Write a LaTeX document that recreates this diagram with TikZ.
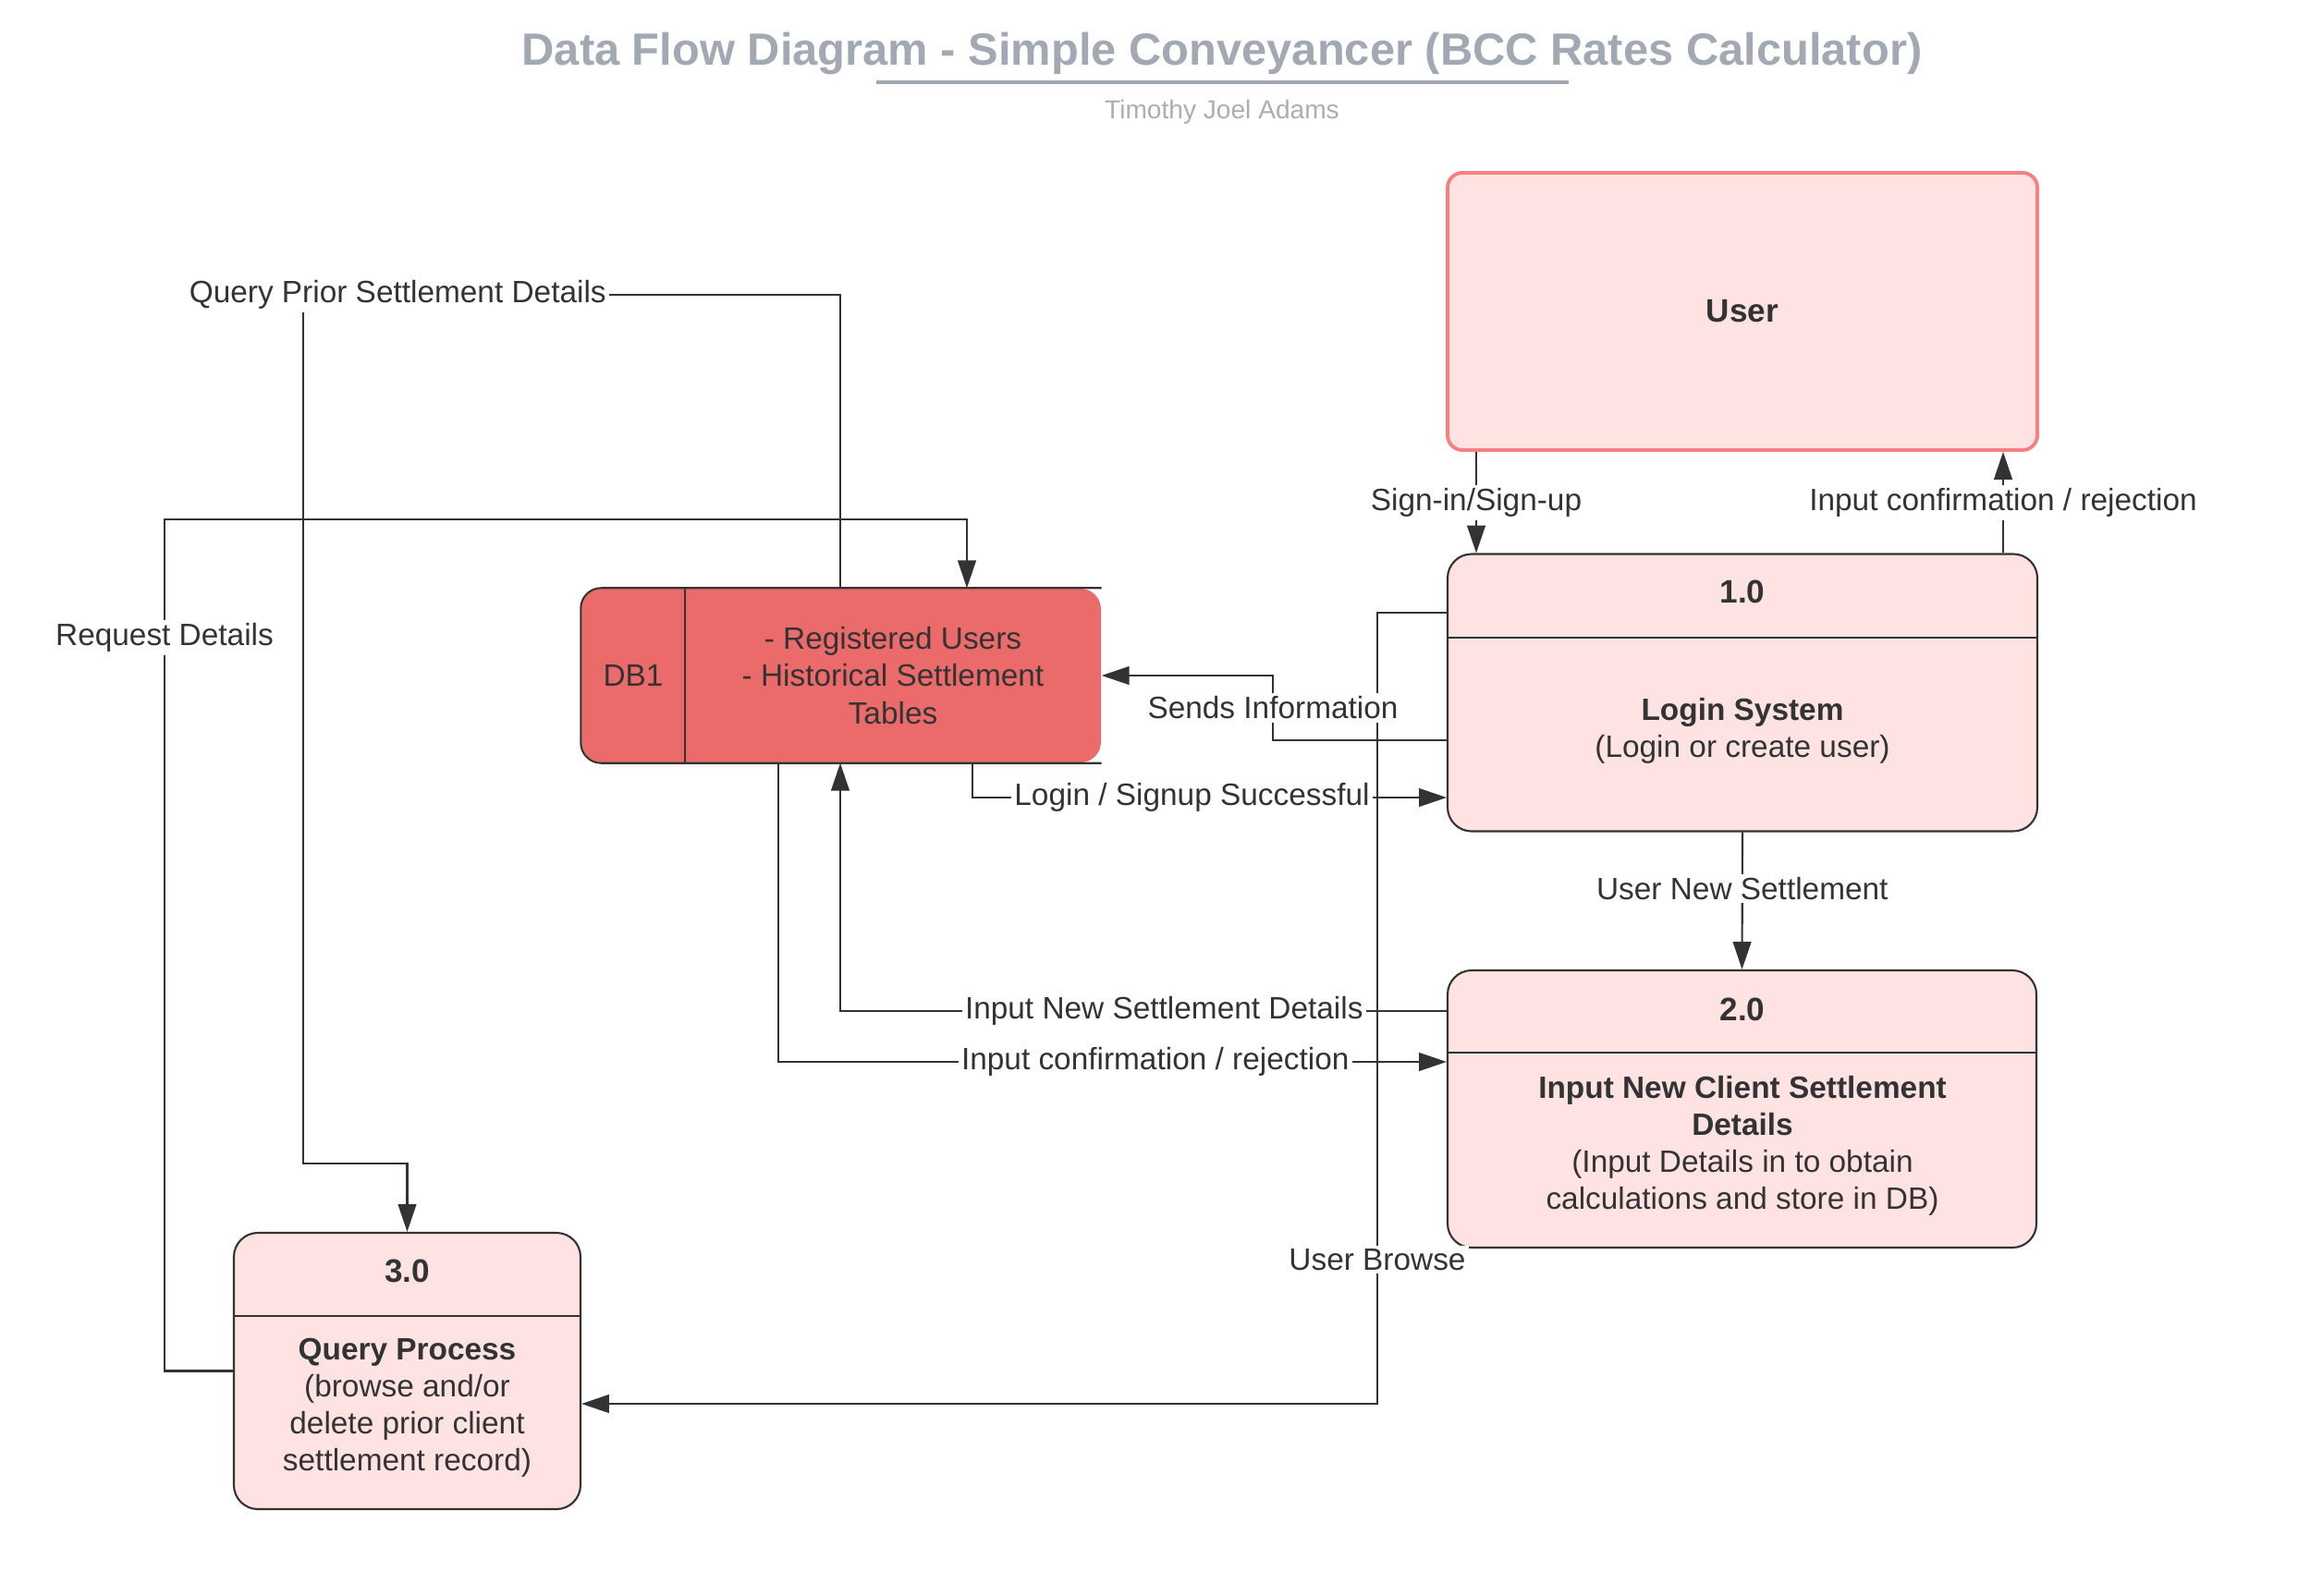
\documentclass[tikz,border=0pt]{standalone}
\usepackage{fontspec}
\setmainfont{Liberation Sans}
\usepackage{xcolor}
\usetikzlibrary{positioning,calc,arrows.meta}
\definecolor{inkgray}{HTML}{333333}
\definecolor{boxpink}{HTML}{FFE3E3}
\definecolor{userred}{HTML}{F77F7F}
\definecolor{storered}{HTML}{EB6B6B}
\definecolor{titlegray}{HTML}{A3A9B3}
\definecolor{subgray}{HTML}{A9AEB6}

\begin{document}
\begin{tikzpicture}[font=\fontsize{9.5}{11.4}\selectfont, text=inkgray,
    flow/.style={draw=inkgray, line width=0.6pt, -{Triangle[length=8.5pt,width=5.6pt]}},
    lbl/.style={fill=white, inner sep=1pt, text=inkgray},
    procbox/.style={draw=inkgray, line width=0.6pt, fill=boxpink, rounded corners=0.26cm},
    divider/.style={draw=inkgray, line width=0.6pt}]
            \useasboundingbox (0,0) rectangle (24.86,-17.27);

            % Title
            \node[font=\bfseries\fontsize{13.9}{16}\selectfont, text=titlegray] (title) at (13.22,-0.58) {Data Flow Diagram - Simple Conveyancer (BCC Rates Calculator)};
            \draw[titlegray, line width=1.1pt] (9.48,-0.89) -- (16.97,-0.89);
            \node[font=\fontsize{8}{9.5}\selectfont, text=subgray] (author) at (13.22,-1.21) {Timothy Joel Adams};

            % User
            \node[draw=userred, line width=1.1pt, fill=boxpink, rounded corners=0.16cm,
                  minimum width=6.38cm, minimum height=3cm] (user) at (18.85,-3.37) {};
            \node[font=\bfseries] at (user) {User};

            % 1.0 Login System
            \node[procbox, minimum width=6.38cm, minimum height=3cm] (p1) at (18.85,-7.495) {};
            \draw[divider] (p1.west |- 0,-6.90) -- (p1.east |- 0,-6.90);
            \node[font=\bfseries] at (18.85,-6.40) {1.0};
            \node[align=center] at (18.85,-7.91) {\textbf{Login System}\\(Login or create user)};

            % 2.0 Input New Client Settlement Details
            \node[procbox, minimum width=6.37cm, minimum height=3cm] (p2) at (18.845,-12.00) {};
            \draw[divider] (p2.west |- 0,-11.39) -- (p2.east |- 0,-11.39);
            \node[font=\bfseries] at (18.85,-10.92) {2.0};
            \node[align=center] at (18.85,-12.40) {\textbf{Input New Client Settlement}\\\textbf{Details}\\(Input Details in to obtain\\calculations and store in DB)};

            % 3.0 Query Process
            \node[procbox, minimum width=3.75cm, minimum height=2.99cm] (p3) at (4.405,-14.835) {};
            \draw[divider] (p3.west |- 0,-14.24) -- (p3.east |- 0,-14.24);
            \node[font=\bfseries] at (4.405,-13.75) {3.0};
            \node[align=center] at (4.405,-15.23) {\textbf{Query Process}\\(browse and/or\\delete prior client\\settlement record)};

            % DB1 data store
            \node[fill=storered, rounded corners=0.22cm, minimum width=5.62cm, minimum height=1.88cm] (db) at (9.10,-7.31) {};
            \draw[inkgray, line width=0.6pt, rounded corners=0.22cm] (db.north east) -- (db.north west) -- (db.south west) -- (db.south east);
            \draw[divider] (7.41,0 |- db.north) -- (7.41,0 |- db.south);
            \node at (6.85,-7.31) {DB1};
            \node[align=center] at (9.66,-7.31) {- Registered Users\\- Historical Settlement\\Tables};

            % Flows
            \draw[flow] (p1.west |- 0,-6.63) -- (14.90,-6.63) -- node[lbl, pos=0.818] {User Browse} (14.90,-15.19) -- (p3.east |- 0,-15.19);
            \draw[flow] (15.97,0 |- user.south) -- node[lbl] {Sign-in/Sign-up} (15.97,0 |- p1.north);
            \draw[flow] (21.67,0 |- p1.north) -- node[lbl] {Input confirmation / rejection} (21.67,0 |- user.south);
            \draw[flow] (p1.south) -- node[lbl, pos=0.41] {User New Settlement} (p2.north);
            \draw[flow] (p1.west |- 0,-8.01) -- (13.77,-8.01) -- node[lbl] {Sends Information} (13.77,-7.31) -- (db.east);
            \draw[flow] (10.52,0 |- db.south) -- (10.52,-8.63) -- node[lbl, pos=0.463] {Login / Signup Successful} (p1.west |- 0,-8.63);
            \draw[flow] (p2.west |- 0,-10.94) -- node[lbl, pos=0.466] {Input New Settlement Details} (9.09,-10.94) -- (9.09,0 |- db.south);
            \draw[flow] (8.42,0 |- db.south) -- (8.42,-11.49) -- node[lbl, pos=0.564] {Input confirmation / rejection} (p2.west |- 0,-11.49);
            \draw[flow] (9.09,0 |- db.north) -- (9.09,-3.19) -- node[lbl, pos=0.824] {Query Prior Settlement Details} (3.28,-3.19) -- (3.28,-12.59) -- (4.405,-12.59) -- (p3.north);
            \draw[flow] (p3.west) -- (1.78,-14.835) -- node[lbl, pos=0.861] {Request Details} (1.78,-5.62) -- (10.46,-5.62) -- (10.46,0 |- db.north);
        \end{tikzpicture}
\end{document}
